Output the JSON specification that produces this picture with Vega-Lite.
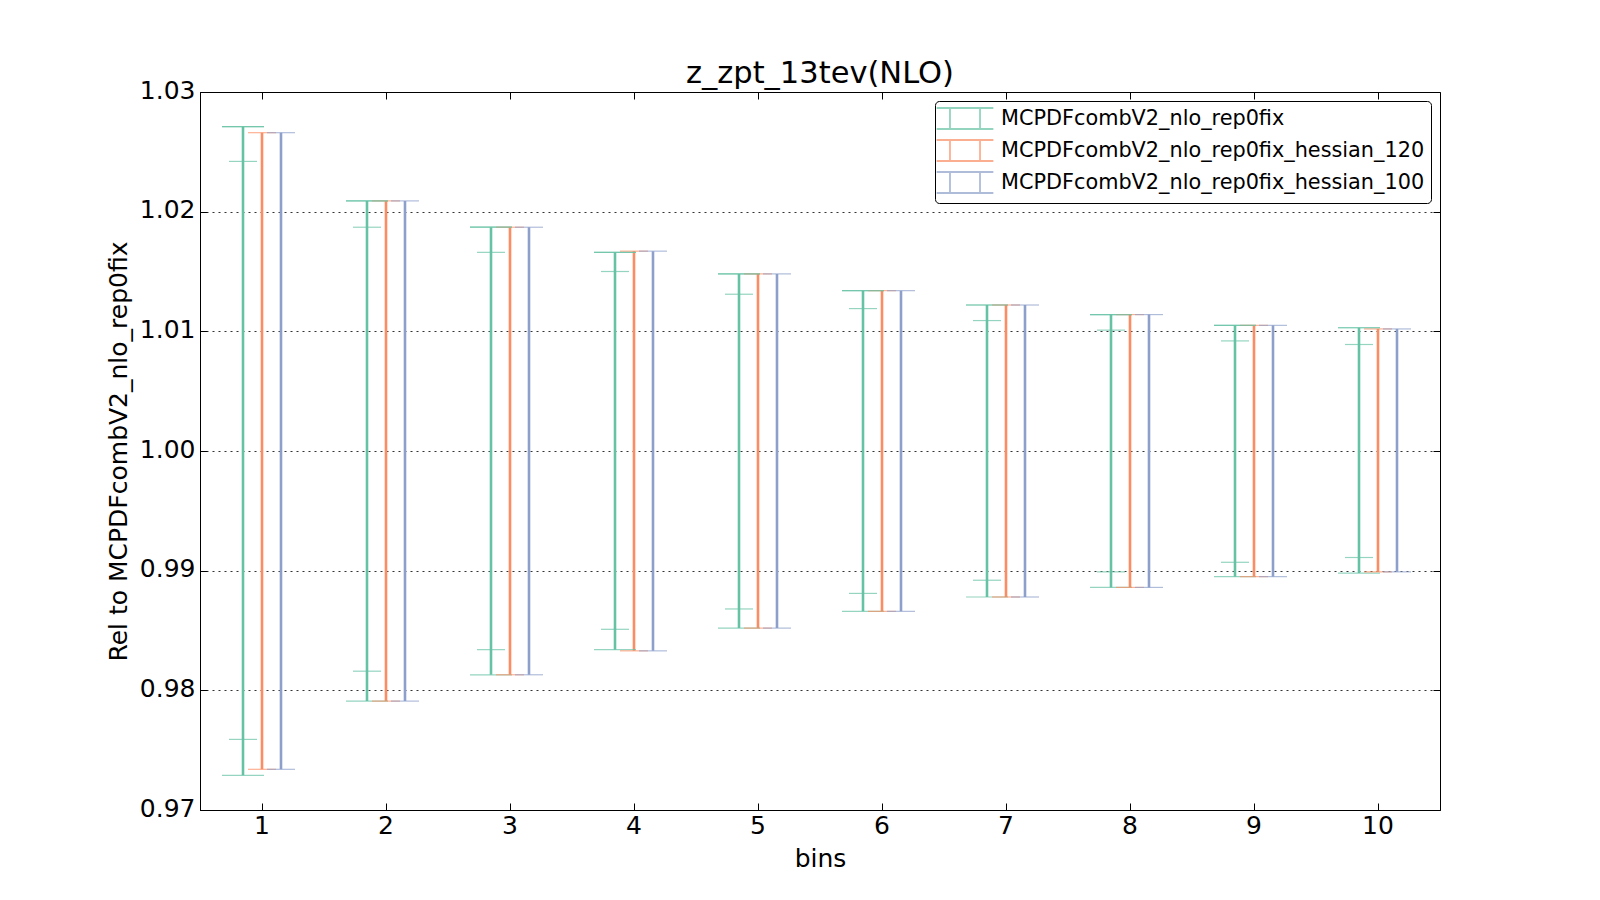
{
  "$schema": "https://vega.github.io/schema/vega-lite/v6.json",
  "autosize": {"type": "none"},
  "padding": {"left": 200, "top": 92, "right": 160, "bottom": 90},
  "width": 1240,
  "height": 718,
  "background": "white",
  "title": {"text": "z_zpt_13tev(NLO)", "fontSize": 30.5, "font": "DejaVu Sans", "fontWeight": "normal", "color": "black", "offset": -11},
  "data": {"values": [
    {"bin": 1, "series": "MCPDFcombV2_nlo_rep0fix", "lo": 0.9729, "hi": 1.0271, "ilo": 0.9759, "ihi": 1.0242},
    {"bin": 2, "series": "MCPDFcombV2_nlo_rep0fix", "lo": 0.9791, "hi": 1.0209, "ilo": 0.9816, "ihi": 1.0187},
    {"bin": 3, "series": "MCPDFcombV2_nlo_rep0fix", "lo": 0.9813, "hi": 1.0187, "ilo": 0.9834, "ihi": 1.0166},
    {"bin": 4, "series": "MCPDFcombV2_nlo_rep0fix", "lo": 0.9834, "hi": 1.0166, "ilo": 0.9851, "ihi": 1.0150},
    {"bin": 5, "series": "MCPDFcombV2_nlo_rep0fix", "lo": 0.9852, "hi": 1.0148, "ilo": 0.9868, "ihi": 1.0131},
    {"bin": 6, "series": "MCPDFcombV2_nlo_rep0fix", "lo": 0.9866, "hi": 1.0134, "ilo": 0.9881, "ihi": 1.0119},
    {"bin": 7, "series": "MCPDFcombV2_nlo_rep0fix", "lo": 0.9878, "hi": 1.0122, "ilo": 0.9892, "ihi": 1.0109},
    {"bin": 8, "series": "MCPDFcombV2_nlo_rep0fix", "lo": 0.9886, "hi": 1.0114, "ilo": 0.9899, "ihi": 1.0101},
    {"bin": 9, "series": "MCPDFcombV2_nlo_rep0fix", "lo": 0.9895, "hi": 1.0105, "ilo": 0.9907, "ihi": 1.0092},
    {"bin": 10, "series": "MCPDFcombV2_nlo_rep0fix", "lo": 0.9898, "hi": 1.0103, "ilo": 0.9911, "ihi": 1.0089},
    {"bin": 1, "series": "MCPDFcombV2_nlo_rep0fix_hessian_120", "lo": 0.9734, "hi": 1.0266},
    {"bin": 2, "series": "MCPDFcombV2_nlo_rep0fix_hessian_120", "lo": 0.9791, "hi": 1.0209},
    {"bin": 3, "series": "MCPDFcombV2_nlo_rep0fix_hessian_120", "lo": 0.9813, "hi": 1.0187},
    {"bin": 4, "series": "MCPDFcombV2_nlo_rep0fix_hessian_120", "lo": 0.9833, "hi": 1.0167},
    {"bin": 5, "series": "MCPDFcombV2_nlo_rep0fix_hessian_120", "lo": 0.9852, "hi": 1.0148},
    {"bin": 6, "series": "MCPDFcombV2_nlo_rep0fix_hessian_120", "lo": 0.9866, "hi": 1.0134},
    {"bin": 7, "series": "MCPDFcombV2_nlo_rep0fix_hessian_120", "lo": 0.9878, "hi": 1.0122},
    {"bin": 8, "series": "MCPDFcombV2_nlo_rep0fix_hessian_120", "lo": 0.9886, "hi": 1.0114},
    {"bin": 9, "series": "MCPDFcombV2_nlo_rep0fix_hessian_120", "lo": 0.9895, "hi": 1.0105},
    {"bin": 10, "series": "MCPDFcombV2_nlo_rep0fix_hessian_120", "lo": 0.9899, "hi": 1.0102},
    {"bin": 1, "series": "MCPDFcombV2_nlo_rep0fix_hessian_100", "lo": 0.9734, "hi": 1.0266},
    {"bin": 2, "series": "MCPDFcombV2_nlo_rep0fix_hessian_100", "lo": 0.9791, "hi": 1.0209},
    {"bin": 3, "series": "MCPDFcombV2_nlo_rep0fix_hessian_100", "lo": 0.9813, "hi": 1.0187},
    {"bin": 4, "series": "MCPDFcombV2_nlo_rep0fix_hessian_100", "lo": 0.9833, "hi": 1.0167},
    {"bin": 5, "series": "MCPDFcombV2_nlo_rep0fix_hessian_100", "lo": 0.9852, "hi": 1.0148},
    {"bin": 6, "series": "MCPDFcombV2_nlo_rep0fix_hessian_100", "lo": 0.9866, "hi": 1.0134},
    {"bin": 7, "series": "MCPDFcombV2_nlo_rep0fix_hessian_100", "lo": 0.9878, "hi": 1.0122},
    {"bin": 8, "series": "MCPDFcombV2_nlo_rep0fix_hessian_100", "lo": 0.9886, "hi": 1.0114},
    {"bin": 9, "series": "MCPDFcombV2_nlo_rep0fix_hessian_100", "lo": 0.9895, "hi": 1.0105},
    {"bin": 10, "series": "MCPDFcombV2_nlo_rep0fix_hessian_100", "lo": 0.9899, "hi": 1.0102}
  ]},
  "encoding": {
    "x": {"field": "bin", "type": "ordinal", "title": "bins",
      "scale": {"paddingInner": 0, "paddingOuter": 0},
      "axis": {"labelAngle": 0, "labelFontSize": 25, "titleFontSize": 25, "titleFontWeight": "normal", "tickSize": -7, "labelPadding": 10, "titlePadding": 8, "grid": false}},
    "xOffset": {"field": "series", "type": "nominal",
      "scale": {"domain": ["MCPDFcombV2_nlo_rep0fix", "MCPDFcombV2_nlo_rep0fix_hessian_120", "MCPDFcombV2_nlo_rep0fix_hessian_100"], "range": [33.5, 90.5], "paddingInner": 0, "paddingOuter": 0}},
    "color": {"field": "series", "type": "nominal", "title": null,
      "scale": {"domain": ["MCPDFcombV2_nlo_rep0fix", "MCPDFcombV2_nlo_rep0fix_hessian_120", "MCPDFcombV2_nlo_rep0fix_hessian_100"], "range": ["#66c2a5", "#fc8d62", "#8da0cb"]}}
  },
  "layer": [
    {"layer": [
      {"mark": {"type": "rule", "strokeWidth": 2.6},
       "encoding": {
         "y": {"field": "lo", "type": "quantitative", "title": "Rel to MCPDFcombV2_nlo_rep0fix",
           "scale": {"domain": [0.97, 1.03], "nice": false, "zero": false},
           "axis": {"values": [0.97, 0.98, 0.99, 1.0, 1.01, 1.02, 1.03], "format": ".2f", "labelFontSize": 25, "titleFontSize": 25, "titleFontWeight": "normal", "tickSize": -7, "labelPadding": 12, "labelOffset": -2, "titlePadding": 8, "grid": true, "gridColor": "black", "gridDash": [2, 4], "gridWidth": 1, "gridOpacity": 0.8}},
         "y2": {"field": "hi"}}},
      {"mark": {"type": "tick", "orient": "horizontal", "thickness": 1.2},
       "transform": [{"filter": "datum.series === 'MCPDFcombV2_nlo_rep0fix'"}],
       "encoding": {"y": {"field": "hi", "type": "quantitative"}, "size": {"value": 42}}},
      {"mark": {"type": "tick", "orient": "horizontal", "thickness": 1.2},
       "transform": [{"filter": "datum.series === 'MCPDFcombV2_nlo_rep0fix'"}],
       "encoding": {"y": {"field": "lo", "type": "quantitative"}, "size": {"value": 42}}},
      {"mark": {"type": "tick", "orient": "horizontal", "thickness": 1.2},
       "transform": [{"filter": "datum.series === 'MCPDFcombV2_nlo_rep0fix'"}],
       "encoding": {"y": {"field": "ihi", "type": "quantitative"}, "size": {"value": 28}}},
      {"mark": {"type": "tick", "orient": "horizontal", "thickness": 1.2},
       "transform": [{"filter": "datum.series === 'MCPDFcombV2_nlo_rep0fix'"}],
       "encoding": {"y": {"field": "ilo", "type": "quantitative"}, "size": {"value": 28}}},
      {"mark": {"type": "tick", "orient": "horizontal", "thickness": 1.2},
       "transform": [{"filter": "datum.series !== 'MCPDFcombV2_nlo_rep0fix'"}],
       "encoding": {"y": {"field": "hi", "type": "quantitative"}, "size": {"value": 28}}},
      {"mark": {"type": "tick", "orient": "horizontal", "thickness": 1.2},
       "transform": [{"filter": "datum.series !== 'MCPDFcombV2_nlo_rep0fix'"}],
       "encoding": {"y": {"field": "lo", "type": "quantitative"}, "size": {"value": 28}}}
    ]},
    {"mark": {"type": "tick", "orient": "horizontal", "thickness": 1.2},
     "transform": [{"filter": "datum.series === 'MCPDFcombV2_nlo_rep0fix'"}],
     "encoding": {
       "x": {"field": "bin", "type": "ordinal", "axis": {"orient": "top", "labels": false, "title": null, "tickSize": -7, "domain": false, "grid": false}},
       "y": {"field": "hi", "type": "quantitative", "axis": {"orient": "right", "values": [0.97, 0.98, 0.99, 1.0, 1.01, 1.02, 1.03], "labels": false, "title": null, "tickSize": -7, "domain": false, "grid": false}},
       "size": {"value": 42}}}
  ],
  "resolve": {"axis": {"x": "independent", "y": "independent"}},
  "config": {
    "font": "DejaVu Sans",
    "view": {"stroke": "black", "strokeWidth": 1},
    "axis": {"domainColor": "black", "tickColor": "black", "labelColor": "black", "titleColor": "black", "labelFont": "DejaVu Sans", "titleFont": "DejaVu Sans"},
    "legend": {
      "orient": "top-right",
      "offset": 9,
      "padding": 6,
      "strokeColor": "black",
      "cornerRadius": 4,
      "fillColor": "white",
      "symbolType": "M-2.7,-1H2.7M-2.7,1H2.7M-1.43,-1V1M1.43,-1V1",
      "symbolSize": 441,
      "symbolStrokeWidth": 1.8,
      "symbolFillColor": "transparent",
      "symbolOffset": 12.5,
      "labelOffset": 24.5,
      "labelFontSize": 20.8,
      "labelFont": "DejaVu Sans",
      "labelColor": "black",
      "labelLimit": 0,
      "rowPadding": 3
    }
  }
}
